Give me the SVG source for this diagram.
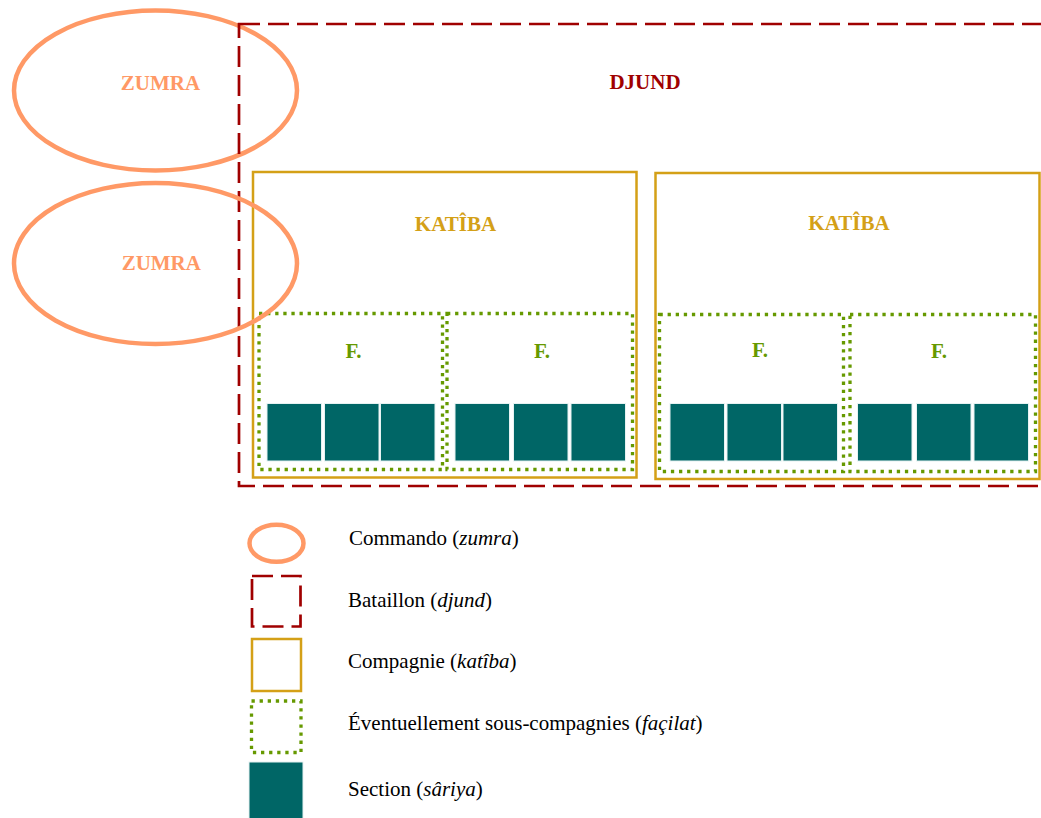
<svg xmlns="http://www.w3.org/2000/svg" width="1041" height="818" viewBox="0 0 1041 818">
<style>
.zum{fill:none;stroke:#FF9966;stroke-width:4.5}
.djund{fill:none;stroke:#A00000;stroke-width:2.7;stroke-dasharray:21 8}
.kat{fill:none;stroke:#D4A017;stroke-width:2.5}
.fac{fill:none;stroke:#669900;stroke-width:3.3;stroke-dasharray:3.3 4.8}
.sec{fill:#006666;stroke:#E6F2F2;stroke-width:1}
.lbl{font-family:'Liberation Serif','Times New Roman','DejaVu Serif',serif;font-weight:bold;font-size:21px;text-anchor:middle}
.leg{font-family:'Liberation Serif','Times New Roman','DejaVu Serif',serif;font-size:21px;fill:#000}
</style>
<rect width="1041" height="818" fill="#fff"/>
<g id="zumra1">
<ellipse class="zum" cx="155.5" cy="90.5" rx="141.5" ry="80"/>
<text class="lbl" x="160.5" y="90" fill="#FF9966">ZUMRA</text>
</g>
<g id="djund">
<rect class="djund" x="239" y="24" width="850" height="462"/>
<text class="lbl" x="645" y="88.5" fill="#A00000">DJUND</text>
</g>
<g id="katiba1">
<rect class="kat" x="253" y="172" width="383.5" height="305.5"/>
<text class="lbl" x="455.5" y="230.5" fill="#D4A017">KATÎBA</text>
</g>
<g id="katiba2">
<rect class="kat" x="655.5" y="173" width="384" height="306"/>
<text class="lbl" x="849" y="230" fill="#D4A017">KATÎBA</text>
</g>
<g id="facilat1">
<rect class="fac" x="259" y="313.5" width="183.5" height="156"/>
<text class="lbl" x="353.5" y="358" fill="#669900">F.</text>
<rect class="sec" x="267" y="403.5" width="54.5" height="57.5"/>
<rect class="sec" x="324.5" y="403.5" width="54.5" height="57.5"/>
<rect class="sec" x="380.5" y="403.5" width="54.5" height="57.5"/>
</g>
<g id="facilat2">
<rect class="fac" x="447" y="313.5" width="185.5" height="156"/>
<text class="lbl" x="542" y="358" fill="#669900">F.</text>
<rect class="sec" x="455" y="403.5" width="54.5" height="57.5"/>
<rect class="sec" x="513.5" y="403.5" width="54.5" height="57.5"/>
<rect class="sec" x="571" y="403.5" width="54.5" height="57.5"/>
</g>
<g id="facilat3">
<rect class="fac" x="659.5" y="314.5" width="184" height="157"/>
<text class="lbl" x="760" y="356.5" fill="#669900">F.</text>
<rect class="sec" x="670" y="403.5" width="54.5" height="57.5"/>
<rect class="sec" x="727" y="403.5" width="54.5" height="57.5"/>
<rect class="sec" x="783" y="403.5" width="54.5" height="57.5"/>
</g>
<g id="facilat4">
<rect class="fac" x="850" y="314.5" width="185.5" height="157"/>
<text class="lbl" x="939" y="358" fill="#669900">F.</text>
<rect class="sec" x="857.5" y="403.5" width="54.5" height="57.5"/>
<rect class="sec" x="916.5" y="403.5" width="54.5" height="57.5"/>
<rect class="sec" x="974" y="403.5" width="54.5" height="57.5"/>
</g>
<g id="zumra2">
<ellipse class="zum" cx="155.5" cy="263.5" rx="141.5" ry="80.5"/>
<text class="lbl" x="161.3" y="269.5" fill="#FF9966">ZUMRA</text>
</g>
<g id="connectors"></g>
<g id="legend">
<g id="leg-zumra">
<ellipse class="zum" cx="276.5" cy="543.3" rx="27" ry="18.5"/>
<text class="leg" x="349" y="545">Commando (<tspan font-style="italic">zumra</tspan>)</text>
</g>
<g id="leg-djund">
<rect class="djund" x="252" y="576" width="48.5" height="50.5" stroke-width="3"/>
<text class="leg" x="348" y="607">Bataillon (<tspan font-style="italic">djund</tspan>)</text>
</g>
<g id="leg-katiba">
<rect class="kat" x="252" y="639" width="49" height="52"/>
<text class="leg" x="348" y="668">Compagnie (<tspan font-style="italic">katîba</tspan>)</text>
</g>
<g id="leg-facilat">
<rect class="fac" x="251.5" y="701" width="49.5" height="51.5"/>
<text class="leg" x="348" y="730">Éventuellement sous-compagnies (<tspan font-style="italic">façilat</tspan>)</text>
</g>
<g id="leg-sariya">
<rect class="sec" x="249" y="762" width="54" height="60"/>
<text class="leg" x="348" y="796">Section (<tspan font-style="italic">sâriya</tspan>)</text>
</g>
</g>
</svg>
